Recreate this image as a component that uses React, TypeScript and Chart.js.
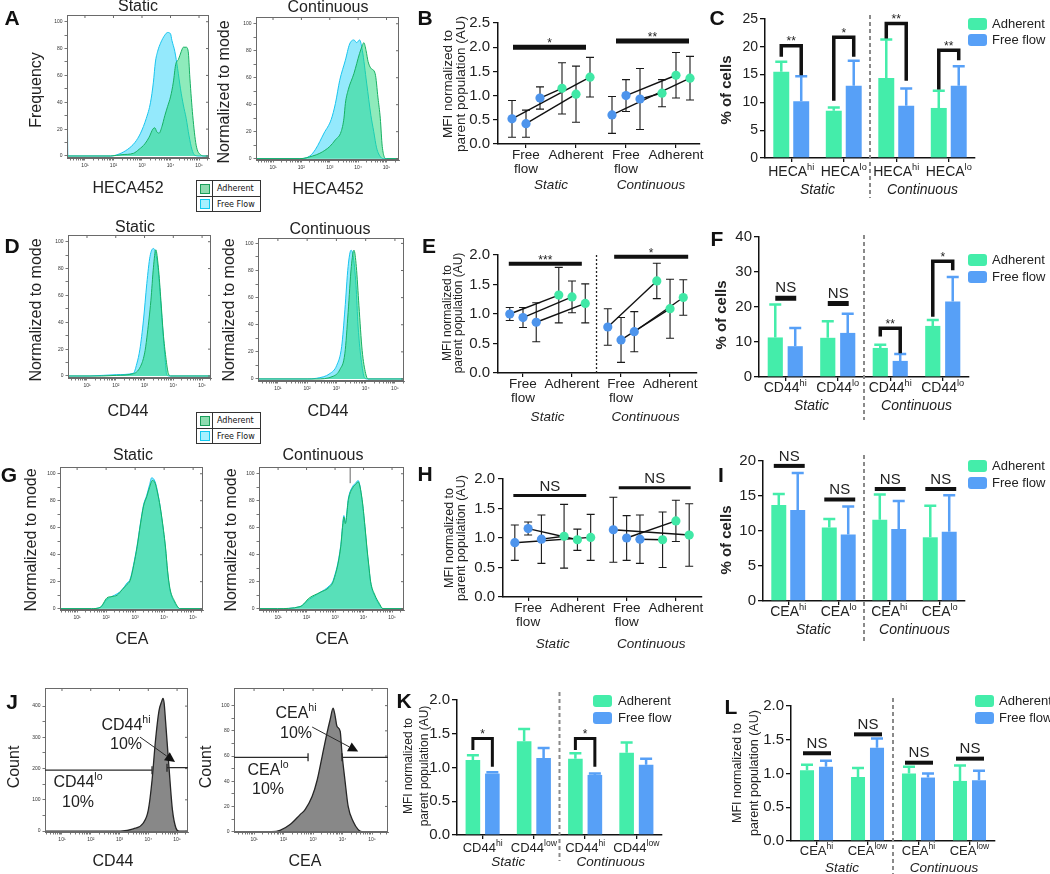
import React, { useEffect, useRef } from 'react';
import { Chart, registerables } from 'chart.js';

Chart.register(...registerables);

const FONT = "'Liberation Sans', Arial, Helvetica, sans-serif";
Chart.defaults.font.family = FONT;
Chart.defaults.color = '#222';

const BAR_GREEN = '#44EDAA';
const BAR_BLUE = '#57A0F7';
const DOT_GREEN = '#40E8A6';
const DOT_BLUE = '#4D94EC';

// ===================== DATA =====================
// Histograms: x = log10 fluorescence (decades), y = % of mode (or count)
const decadeTicks = [1, 2, 3, 4, 5];
const decadeLabels = ['10¹', '10²', '10³', '10⁴', '10⁵'];
const modeTicks = [0, 20, 40, 60, 80, 100];
const cd44CountTicks = [0, 100, 200, 300, 400];

const aStaticAdherent = [[0.37, 0], [1.9, 0], [2.3, 1], [2.7, 2], [2.9, 5], [3.1, 9], [3.25, 14], [3.38, 20], [3.45, 21], [3.52, 18], [3.6, 17], [3.7, 22], [3.8, 30], [3.9, 37], [4.0, 44], [4.1, 55], [4.18, 68], [4.28, 72], [4.38, 78], [4.45, 81], [4.55, 81], [4.62, 78], [4.68, 58], [4.78, 30], [4.9, 8], [5.05, 1], [5.2, 0], [5.35, 0]];
const aStaticFreeFlow = [[0.37, 88], [0.4, 0], [1.9, 0], [2.2, 1.5], [2.5, 5], [2.75, 10], [2.95, 17], [3.15, 28], [3.3, 40], [3.4, 55], [3.47, 70], [3.55, 78], [3.65, 84], [3.8, 90], [3.9, 92], [4.0, 91], [4.05, 86], [4.15, 78], [4.25, 65], [4.35, 50], [4.45, 38], [4.55, 28], [4.65, 15], [4.75, 5], [4.85, 0.5], [5.0, 0], [5.35, 0]];
const aContAdherent = [[0.4, 0], [1.95, 0], [2.4, 2], [2.65, 4], [3.0, 9], [3.2, 14], [3.4, 20], [3.5, 30], [3.55, 41], [3.65, 51], [3.85, 63], [4.05, 78], [4.15, 84], [4.2, 86], [4.28, 80], [4.35, 72], [4.45, 67], [4.6, 63], [4.7, 45], [4.78, 30], [4.85, 9], [5.0, 0], [5.44, 0]];
const aContFreeFlow = [[0.4, 0], [1.95, 0], [2.3, 2], [2.5, 7], [2.8, 19], [3.05, 29], [3.2, 41], [3.35, 58], [3.55, 73], [3.7, 85], [3.85, 88], [3.95, 86], [4.05, 88], [4.15, 80], [4.3, 56], [4.45, 32], [4.55, 20], [4.65, 8], [4.8, 1], [4.9, 0], [5.44, 0]];
const dStaticAdherent = [[0.34, 0], [1.5, 0], [2.03, 0.5], [2.61, 1.7], [2.9, 9], [3.02, 19], [3.1, 32], [3.22, 56], [3.31, 81], [3.39, 94], [3.48, 81], [3.57, 56], [3.65, 32], [3.74, 14], [3.83, 1.7], [3.91, 0], [5.31, 0]];
const dStaticFreeFlow = [[0.34, 8], [0.36, 0], [1.1, 0], [2.03, 1], [2.61, 2], [2.73, 9], [2.84, 20], [2.96, 41], [3.08, 69], [3.19, 89], [3.31, 95], [3.4, 90], [3.48, 78], [3.6, 44], [3.71, 14], [3.77, 1], [3.85, 0], [5.31, 0]];
const dContAdherent = [[0.32, 0], [2.3, 0], [2.89, 2], [3.12, 7], [3.29, 19], [3.4, 49], [3.51, 83], [3.6, 95], [3.68, 83], [3.77, 54], [3.88, 21], [4.0, 4], [4.08, 0], [5.31, 0]];
const dContFreeFlow = [[0.32, 3], [0.34, 0], [2.0, 0], [2.32, 0.5], [2.78, 4], [3.01, 10], [3.18, 24], [3.29, 51], [3.4, 83], [3.5, 95], [3.57, 91], [3.67, 69], [3.74, 39], [3.86, 12], [3.97, 0.5], [4.05, 0], [5.31, 0]];
const gStaticAdherent = [[0.41, 28], [0.43, 0], [1.5, 0], [1.8, 1], [2.03, 8], [2.2, 9], [2.38, 10], [2.55, 14], [2.72, 18], [2.83, 21], [2.95, 32], [3.07, 46], [3.18, 62], [3.29, 76], [3.4, 83], [3.5, 90], [3.59, 95], [3.69, 93], [3.78, 85], [3.86, 76], [3.98, 58], [4.05, 45], [4.12, 28], [4.2, 15], [4.35, 6], [4.55, 0], [5.34, 0]];
const gStaticFreeFlow = [[0.41, 26], [0.43, 0], [1.5, 0], [1.8, 1], [2.03, 7], [2.2, 9], [2.38, 11], [2.55, 14], [2.72, 19], [2.83, 22], [2.95, 33], [3.07, 47], [3.18, 63], [3.29, 77], [3.4, 84], [3.5, 92], [3.57, 97], [3.69, 94], [3.78, 86], [3.86, 76], [3.98, 57], [4.05, 44], [4.12, 27], [4.2, 14], [4.35, 5], [4.55, 0], [5.34, 0]];
const gContAdherent = [[0.33, 18], [0.35, 0], [0.98, 0], [1.77, 1.5], [2.1, 8], [2.47, 12], [2.8, 16], [2.95, 21], [3.2, 46], [3.27, 62], [3.31, 68], [3.36, 63], [3.47, 81], [3.63, 90], [3.72, 92], [3.81, 94], [3.95, 81], [4.05, 61], [4.12, 45], [4.18, 33], [4.25, 20], [4.4, 10], [4.55, 4], [4.68, 0], [5.42, 0]];
const gContFreeFlow = [[0.33, 16], [0.35, 0], [0.98, 0], [1.77, 1.5], [2.1, 7], [2.47, 12], [2.8, 17], [2.95, 22], [3.2, 47], [3.27, 63], [3.31, 69], [3.36, 64], [3.47, 82], [3.63, 91], [3.72, 93], [3.81, 95], [3.95, 80], [4.05, 60], [4.12, 44], [4.18, 32], [4.25, 19], [4.4, 9], [4.55, 3], [4.68, 0], [5.42, 0]];
const gContMarker = [3.53, 93, 105];
const jCd44Count = [[0.41, 0], [3.03, 0], [3.48, 7], [3.82, 25], [4.0, 67], [4.13, 162], [4.25, 290], [4.37, 384], [4.47, 416], [4.51, 425], [4.55, 410], [4.6, 352], [4.72, 203], [4.84, 67], [4.96, 10], [5.07, 0], [5.38, 0]];
const jCeaCount = [[0.32, 0], [1.6, 0], [1.88, 1], [2.22, 5.6], [2.56, 13.5], [2.73, 17.5], [2.97, 28], [3.14, 41], [3.31, 60], [3.47, 78], [3.58, 89], [3.68, 98], [3.75, 91.5], [3.81, 83.6], [3.92, 79.6], [3.98, 62], [4.08, 41], [4.19, 20], [4.36, 8], [4.53, 1.6], [4.65, 0], [5.54, 0]];
// gates: [x1, x2, level]; arrows: [x1, y1, x2, y2]
const cd44LoGate = [0.41, 4.13, 195];
const cd44HiGate = [4.65, 5.38, 203];
const cd44Arrow = [3.71, 301, 4.93, 221];
const ceaLoGate = [0.32, 2.83, 59];
const ceaHiGate = [3.98, 5.54, 59];
const ceaArrow = [2.97, 83, 4.53, 63.5];

// MFI dot plots (B, E, H): three paired experiments per condition
const mfiCats = [1, 2, 3, 4];
const mfiCatLabels: any[] = [['Free', 'flow'], 'Adherent', ['Free', 'flow'], 'Adherent'];
const groupLabels = ['Static', 'Continuous'];

const bStaticFree = [0.52, 0.42, 0.95];
const bStaticFreeSd = [0.38, 0.28, 0.23];
const bStaticAdh = [1.15, 1.03, 1.38];
const bStaticAdhSd = [0.53, 0.58, 0.41];
const bContFree = [0.6, 1.0, 0.93];
const bContFreeSd = [0.38, 0.33, 0.63];
const bContAdh = [1.05, 1.42, 1.36];
const bContAdhSd = [0.28, 0.47, 0.45];
const bPairs = [2, 1, 0];
const bSig = [{ x1: 0.74, x2: 2.2, y: 2.0, label: '*' }, { x1: 2.8, x2: 4.26, y: 2.13, label: '**' }];

const eStaticFree = [1.0, 0.94, 0.86];
const eStaticFreeSd = [0.11, 0.17, 0.33];
const eStaticAdh = [1.32, 1.29, 1.18];
const eStaticAdhSd = [0.47, 0.27, 0.33];
const eContFree = [0.78, 0.56, 0.7];
const eContFreeSd = [0.31, 0.38, 0.34];
const eContAdh = [1.56, 1.09, 1.28];
const eContAdhSd = [0.3, 0.5, 0.3];
const ePairs = [0, 1, 2];
const eSig = [{ x1: 0.71, x2: 2.2, y: 1.85, label: '***' }, { x1: 2.86, x2: 4.37, y: 1.97, label: '*' }];

const hStaticFree = [0.92, 1.16, 0.98];
const hStaticFreeSd = [0.3, 0.11, 0.41];
const hStaticAdh = [1.03, 0.97, 1.01];
const hStaticAdhSd = [0.54, 0.18, 0.39];
const hContFree = [1.14, 1.0, 0.98];
const hContFreeSd = [0.55, 0.38, 0.41];
const hContAdh = [0.97, 1.29, 1.05];
const hContAdhSd = [0.47, 0.35, 0.53];
const hPairs = [2, 1, 0];
const hSig = [{ x1: 0.7, x2: 2.18, y: 1.72, label: 'NS' }, { x1: 2.84, x2: 4.3, y: 1.85, label: 'NS' }];

// Bar charts (C, F, I, K, L)
const legendLabels = ['Adherent', 'Free flow'];

const cLabels = [['HECA', 'hi'], ['HECA', 'lo'], ['HECA', 'hi'], ['HECA', 'lo']];
const cAdh = [15.5, 8.5, 14.4, 9.0];
const cAdhSd = [1.8, 0.6, 6.9, 3.1];
const cFree = [10.2, 13.0, 9.4, 13.0];
const cFreeSd = [4.5, 4.5, 3.1, 3.5];
const cBrackets = [
  { g: 0, y: 20.2, left: 18.2, right: 14.9, label: '**' },
  { g: 1, y: 21.7, left: 10.3, right: 18.2, label: '*' },
  { g: 2, y: 24.2, left: 21.5, right: 13.9, label: '**' },
  { g: 3, y: 19.4, left: 12.3, right: 17.6, label: '**' },
];

const fLabels = [['CD44', 'hi'], ['CD44', 'lo'], ['CD44', 'hi'], ['CD44', 'lo']];
const fAdh = [11.3, 11.2, 8.3, 14.6];
const fAdhSd = [9.4, 4.7, 0.9, 1.7];
const fFree = [8.8, 12.6, 4.6, 21.6];
const fFreeSd = [5.2, 5.5, 2.0, 7.0];
const fNs = [{ g: 0, y: 22.5 }, { g: 1, y: 21.0 }];
const fBrackets = [
  { g: 2, y: 13.9, left: 11.6, right: 6.8, label: '**' },
  { g: 3, y: 33.1, left: 17.2, right: 30.5, label: '*' },
];

const iLabels = [['CEA', 'hi'], ['CEA', 'lo'], ['CEA', 'hi'], ['CEA', 'lo']];
const iAdh = [13.7, 10.5, 11.6, 9.1];
const iAdhSd = [1.6, 1.2, 3.6, 4.5];
const iFree = [13.0, 9.5, 10.3, 9.9];
const iFreeSd = [5.3, 4.0, 4.0, 5.2];
const iNs = [{ g: 0, y: 19.3 }, { g: 1, y: 14.5 }, { g: 2, y: 16.0 }, { g: 3, y: 16.0 }];

const kLabels = [['CD44', 'hi'], ['CD44', 'low'], ['CD44', 'hi'], ['CD44', 'low']];
const kAdh = [1.11, 1.39, 1.13, 1.22];
const kAdhSd = [0.07, 0.18, 0.08, 0.15];
const kFree = [0.91, 1.14, 0.89, 1.04];
const kFreeSd = [0.02, 0.15, 0.02, 0.09];
const kBrackets = [
  { g: 0, y: 1.43, left: 1.26, right: 1.01, label: '*' },
  { g: 2, y: 1.43, left: 1.26, right: 1.01, label: '*' },
];

const lLabels = [['CEA', 'hi'], ['CEA', 'low'], ['CEA', 'hi'], ['CEA', 'low']];
const lAdh = [1.05, 0.95, 1.0, 0.89];
const lAdhSd = [0.08, 0.13, 0.1, 0.23];
const lFree = [1.1, 1.38, 0.94, 0.9];
const lFreeSd = [0.09, 0.14, 0.06, 0.14];
const lNs = [{ g: 0, y: 1.3 }, { g: 1, y: 1.58 }, { g: 2, y: 1.16 }, { g: 3, y: 1.22 }];

// ===================== DRAW HELPERS =====================
type Seg = { t: string; sup?: boolean };
type TextItem = { x: number; y: number; text?: string; segs?: Seg[]; size: number; bold?: boolean; italic?: boolean; align?: string; rot?: boolean; color?: string };

function fontStr(size: number, bold?: boolean, italic?: boolean) {
  return `${italic ? 'italic ' : ''}${bold ? 'bold ' : ''}${size}px ${FONT}`;
}

// draws at canvas-local coordinates
function drawTextLocal(ctx: CanvasRenderingContext2D, it: TextItem) {
  const segs = it.segs || [{ t: it.text || '' }];
  ctx.save();
  ctx.translate(it.x, it.y);
  if (it.rot) ctx.rotate(-Math.PI / 2);
  ctx.fillStyle = it.color || '#222';
  ctx.textBaseline = 'middle';
  ctx.textAlign = 'left';
  const supSize = it.size * 0.66;
  let total = 0;
  const widths = segs.map((s) => {
    ctx.font = fontStr(s.sup ? supSize : it.size, it.bold, it.italic);
    const w = ctx.measureText(s.t).width;
    total += w;
    return w;
  });
  let x = it.align === 'left' ? 0 : it.align === 'right' ? -total : -total / 2;
  segs.forEach((s, i) => {
    ctx.font = fontStr(s.sup ? supSize : it.size, it.bold, it.italic);
    ctx.fillText(s.t, x, s.sup ? -it.size * 0.36 : 0);
    x += widths[i];
  });
  ctx.restore();
}

type Rect = { L: number; T: number; W: number; H: number };
type Plot = { l: number; t: number; r: number; b: number };

function drawTextPage(ctx: CanvasRenderingContext2D, rect: Rect, it: TextItem) {
  drawTextLocal(ctx, { ...it, x: it.x - rect.L, y: it.y - rect.T });
}

function overlay(rect: Rect, before: any, after: any, texts: TextItem[]) {
  return {
    id: 'overlay',
    beforeDatasetsDraw(chart: any) {
      if (!before) return;
      const ctx = chart.ctx;
      ctx.save();
      before(chart, ctx);
      ctx.restore();
    },
    afterDraw(chart: any) {
      const ctx = chart.ctx;
      ctx.save();
      if (after) after(chart, ctx);
      texts.forEach((t) => drawTextPage(ctx, rect, t));
      ctx.restore();
    },
  };
}

function layoutPad(rect: Rect, plot: Plot) {
  return { left: 0, top: plot.t - rect.T, right: rect.L + rect.W - plot.r, bottom: 0 };
}
function fitY(rect: Rect, plot: Plot) {
  return (s: any) => {
    s.width = plot.l - rect.L;
    s.paddingTop = 0; s.paddingBottom = 0; s.paddingLeft = 0; s.paddingRight = 0;
  };
}
function fitX(rect: Rect, plot: Plot) {
  return (s: any) => {
    s.height = rect.T + rect.H - plot.b;
    s.paddingTop = 0; s.paddingBottom = 0; s.paddingLeft = 0; s.paddingRight = 0;
  };
}
function baseOptions(rect: Rect, plot: Plot) {
  return {
    responsive: false,
    animation: false,
    events: [],
    layout: { padding: layoutPad(rect, plot) },
    plugins: { legend: { display: false }, tooltip: { enabled: false }, title: { display: false } },
  };
}

function roundRect(ctx: CanvasRenderingContext2D, x: number, y: number, w: number, h: number, r: number) {
  ctx.beginPath();
  ctx.moveTo(x + r, y);
  ctx.lineTo(x + w - r, y);
  ctx.quadraticCurveTo(x + w, y, x + w, y + r);
  ctx.lineTo(x + w, y + h - r);
  ctx.quadraticCurveTo(x + w, y + h, x + w - r, y + h);
  ctx.lineTo(x + r, y + h);
  ctx.quadraticCurveTo(x, y + h, x, y + h - r);
  ctx.lineTo(x, y + r);
  ctx.quadraticCurveTo(x, y, x + r, y);
  ctx.closePath();
}

function arrow(ctx: CanvasRenderingContext2D, x1: number, y1: number, x2: number, y2: number) {
  const ang = Math.atan2(y2 - y1, x2 - x1);
  const len = 10, hw = 5;
  const bx = x2 - len * Math.cos(ang), by = y2 - len * Math.sin(ang);
  ctx.beginPath();
  ctx.moveTo(x1, y1);
  ctx.lineTo(bx, by);
  ctx.stroke();
  ctx.beginPath();
  ctx.moveTo(x2, y2);
  ctx.lineTo(bx + hw * Math.sin(ang), by - hw * Math.cos(ang));
  ctx.lineTo(bx - hw * Math.sin(ang), by + hw * Math.cos(ang));
  ctx.closePath();
  ctx.fill();
}

// ===================== HISTOGRAMS =====================
const HIST_STYLE: any = {
  adh: { border: '#17B063', fill: 'rgba(30,215,120,0.5)', w: 1 },
  ff: { border: '#18C4EE', fill: 'rgba(60,215,250,0.55)', w: 1 },
  gray: { border: '#262626', fill: 'rgba(110,110,110,0.82)', w: 1.3 },
};

function histChart(o: any) {
  const { rect, plot } = o;
  const xTickList: number[] = [];
  for (let n = 0; n <= 5; n++) {
    for (let k = 1; k <= 9; k++) {
      const v = n + Math.log10(k);
      if (v >= o.xr[0] && v <= o.xr[1]) xTickList.push(v);
    }
  }
  xTickList.sort((a, b) => a - b);
  const yTickList: number[] = [];
  const yTop = o.yMajor[o.yMajor.length - 1];
  for (let v = 0; v <= yTop + 1e-9; v += o.yMinor) yTickList.push(v);
  const majorX = (v: number) => decadeTicks.findIndex((d) => Math.abs(d - v) < 1e-6);
  const datasets = o.series.map((s: any, i: number) => ({
    data: s.data.map((p: number[]) => ({ x: p[0], y: p[1] })),
    borderColor: HIST_STYLE[s.kind].border,
    backgroundColor: HIST_STYLE[s.kind].fill,
    borderWidth: HIST_STYLE[s.kind].w,
    fill: 'origin',
    pointRadius: 0,
    cubicInterpolationMode: 'monotone',
    order: i,
  }));
  const after = (chart: any, ctx: CanvasRenderingContext2D) => {
    const a = chart.chartArea;
    const X = chart.scales.x, Y = chart.scales.y;
    ctx.strokeStyle = '#6a6a6a';
    ctx.lineWidth = 1;
    ctx.strokeRect(a.left + 0.5, a.top + 0.5, a.right - a.left - 1, a.bottom - a.top - 1);
    ctx.beginPath();
    decadeTicks.forEach((d) => {
      if (d < o.xr[0] || d > o.xr[1]) return;
      const x = X.getPixelForValue(d);
      ctx.moveTo(x, a.top); ctx.lineTo(x, a.top + 3);
    });
    o.yMajor.forEach((v: number) => {
      const y = Y.getPixelForValue(v);
      ctx.moveTo(a.right, y); ctx.lineTo(a.right - 3, y);
    });
    ctx.stroke();
    if (o.extra) o.extra(chart, ctx);
  };
  return {
    type: 'line',
    data: { datasets },
    options: {
      ...baseOptions(rect, plot),
      scales: {
        x: {
          type: 'linear', min: o.xr[0], max: o.xr[1],
          afterBuildTicks: (s: any) => { s.ticks = xTickList.map((value) => ({ value })); },
          afterFit: fitX(rect, plot),
          ticks: {
            autoSkip: false, maxRotation: 0, padding: 2, font: { size: 5 }, color: '#333',
            callback: (v: number) => { const i = majorX(v); return i >= 0 ? decadeLabels[i] : ''; },
          },
          grid: { drawOnChartArea: false, tickLength: 2.5, color: '#555', lineWidth: 0.8 },
          border: { color: '#6a6a6a', width: 1 },
        },
        y: {
          type: 'linear', min: o.yr[0], max: o.yr[1],
          afterBuildTicks: (s: any) => { s.ticks = yTickList.map((value) => ({ value })); },
          afterFit: fitY(rect, plot),
          ticks: {
            autoSkip: false, padding: 2, font: { size: 5 }, color: '#333',
            callback: (v: number) => (o.yMajor.some((m: number) => Math.abs(m - v) < 1e-6) ? String(Math.round(v)) : ''),
          },
          grid: { drawOnChartArea: false, tickLength: 2.5, color: '#555', lineWidth: 0.8 },
          border: { color: '#6a6a6a', width: 1 },
        },
      },
    },
    plugins: [overlay(rect, null, after, o.texts)],
  };
}

function gateDrawer(lo: number[], hi: number[], arr: number[]) {
  return (chart: any, ctx: CanvasRenderingContext2D) => {
    const X = chart.scales.x, Y = chart.scales.y;
    ctx.strokeStyle = '#2a2a2a';
    ctx.fillStyle = '#111';
    ctx.lineWidth = 1.3;
    const y1 = Y.getPixelForValue(lo[2]);
    const a1 = X.getPixelForValue(lo[0]), b1 = X.getPixelForValue(lo[1]);
    ctx.beginPath();
    ctx.moveTo(a1, y1); ctx.lineTo(b1, y1);
    ctx.moveTo(b1, y1 - 4); ctx.lineTo(b1, y1 + 4);
    const y2 = Y.getPixelForValue(hi[2]);
    const a2 = X.getPixelForValue(hi[0]), b2 = X.getPixelForValue(hi[1]);
    ctx.moveTo(a2, y2); ctx.lineTo(b2, y2);
    ctx.moveTo(a2, y2 - 4); ctx.lineTo(a2, y2 + 4);
    ctx.stroke();
    ctx.lineWidth = 1;
    arrow(ctx, X.getPixelForValue(arr[0]), Y.getPixelForValue(arr[1]), X.getPixelForValue(arr[2]), Y.getPixelForValue(arr[3]));
  };
}

const histSpecs: any[] = [
  {
    key: 'A1', rect: { L: 0, T: 0, W: 215, H: 200 }, plot: { l: 67, t: 15, r: 209, b: 158 },
    xr: [0.37, 5.35], yr: [-1.5, 105], yMajor: modeTicks, yMinor: 10,
    series: [{ data: aStaticAdherent, kind: 'adh' }, { data: aStaticFreeFlow, kind: 'ff' }],
    texts: [
      { x: 138, y: 7, text: 'Static', size: 16 },
      { x: 37, y: 90, text: 'Frequency', size: 16, rot: true },
      { x: 128, y: 189, text: 'HECA452', size: 16 },
    ],
  },
  {
    key: 'A2', rect: { L: 212, T: 0, W: 200, H: 200 }, plot: { l: 256, t: 17, r: 399, b: 160 },
    xr: [0.4, 5.44], yr: [-1, 105], yMajor: modeTicks, yMinor: 10,
    series: [{ data: aContAdherent, kind: 'adh' }, { data: aContFreeFlow, kind: 'ff' }],
    texts: [
      { x: 328, y: 8, text: 'Continuous', size: 16 },
      { x: 225, y: 92, text: 'Normalized to mode', size: 16, rot: true },
      { x: 328, y: 190, text: 'HECA452', size: 16 },
    ],
  },
  {
    key: 'D1', rect: { L: 0, T: 215, W: 215, H: 205 }, plot: { l: 68, t: 235, r: 211, b: 378 },
    xr: [0.34, 5.31], yr: [-1.5, 105], yMajor: modeTicks, yMinor: 10,
    series: [{ data: dStaticAdherent, kind: 'adh' }, { data: dStaticFreeFlow, kind: 'ff' }],
    texts: [
      { x: 135, y: 228, text: 'Static', size: 16 },
      { x: 37, y: 310, text: 'Normalized to mode', size: 16, rot: true },
      { x: 128, y: 412, text: 'CD44', size: 16 },
    ],
  },
  {
    key: 'D2', rect: { L: 212, T: 215, W: 200, H: 205 }, plot: { l: 258, t: 238, r: 404, b: 381 },
    xr: [0.32, 5.31], yr: [-1.5, 104], yMajor: modeTicks, yMinor: 10,
    series: [{ data: dContAdherent, kind: 'adh' }, { data: dContFreeFlow, kind: 'ff' }],
    texts: [
      { x: 330, y: 230, text: 'Continuous', size: 16 },
      { x: 230, y: 310, text: 'Normalized to mode', size: 16, rot: true },
      { x: 328, y: 412, text: 'CD44', size: 16 },
    ],
  },
  {
    key: 'G1', rect: { L: 0, T: 444, W: 212, H: 206 }, plot: { l: 60, t: 467, r: 203, b: 610 },
    xr: [0.41, 5.34], yr: [-1, 105], yMajor: modeTicks, yMinor: 10,
    series: [{ data: gStaticAdherent, kind: 'adh' }, { data: gStaticFreeFlow, kind: 'ff' }],
    texts: [
      { x: 133, y: 456, text: 'Static', size: 16 },
      { x: 32, y: 540, text: 'Normalized to mode', size: 16, rot: true },
      { x: 132, y: 640, text: 'CEA', size: 16 },
    ],
  },
  {
    key: 'G2', rect: { L: 212, T: 444, W: 200, H: 206 }, plot: { l: 259, t: 467, r: 404, b: 610 },
    xr: [0.33, 5.42], yr: [-1, 105], yMajor: modeTicks, yMinor: 10,
    series: [{ data: gContAdherent, kind: 'adh' }, { data: gContFreeFlow, kind: 'ff' }],
    texts: [
      { x: 323, y: 456, text: 'Continuous', size: 16 },
      { x: 232, y: 540, text: 'Normalized to mode', size: 16, rot: true },
      { x: 332, y: 640, text: 'CEA', size: 16 },
    ],
    extra: (chart: any, ctx: CanvasRenderingContext2D) => {
      const X = chart.scales.x, Y = chart.scales.y;
      ctx.strokeStyle = '#666';
      ctx.lineWidth = 1;
      ctx.beginPath();
      const x = X.getPixelForValue(gContMarker[0]);
      ctx.moveTo(x, Y.getPixelForValue(gContMarker[1]));
      ctx.lineTo(x, Y.getPixelForValue(gContMarker[2]));
      ctx.stroke();
    },
  },
  {
    key: 'J1', rect: { L: 0, T: 680, W: 195, H: 194 }, plot: { l: 45, t: 688, r: 188, b: 832 },
    xr: [0.41, 5.38], yr: [-3, 458], yMajor: cd44CountTicks, yMinor: 50,
    series: [{ data: jCd44Count, kind: 'gray' }],
    texts: [
      { x: 15, y: 767, text: 'Count', size: 16, rot: true },
      { x: 113, y: 862, text: 'CD44', size: 16 },
      { x: 126, y: 726, segs: [{ t: 'CD44' }, { t: 'hi', sup: true }], size: 16 },
      { x: 126, y: 745, text: '10%', size: 16 },
      { x: 78, y: 783, segs: [{ t: 'CD44' }, { t: 'lo', sup: true }], size: 16 },
      { x: 78, y: 803, text: '10%', size: 16 },
    ],
    extra: gateDrawer(cd44LoGate, cd44HiGate, cd44Arrow),
  },
  {
    key: 'J2', rect: { L: 195, T: 680, W: 200, H: 194 }, plot: { l: 234, t: 688, r: 388, b: 832 },
    xr: [0.32, 5.54], yr: [-0.3, 114], yMajor: modeTicks, yMinor: 10,
    series: [{ data: jCeaCount, kind: 'gray' }],
    texts: [
      { x: 207, y: 767, text: 'Count', size: 16, rot: true },
      { x: 305, y: 862, text: 'CEA', size: 16 },
      { x: 296, y: 714, segs: [{ t: 'CEA' }, { t: 'hi', sup: true }], size: 16 },
      { x: 296, y: 734, text: '10%', size: 16 },
      { x: 268, y: 771, segs: [{ t: 'CEA' }, { t: 'lo', sup: true }], size: 16 },
      { x: 268, y: 790, text: '10%', size: 16 },
    ],
    extra: gateDrawer(ceaLoGate, ceaHiGate, ceaArrow),
  },
];

// ===================== DOT PLOTS =====================
function dotChart(o: any) {
  const { rect, plot } = o;
  const ffPts: any[] = [], adhPts: any[] = [], links: any[] = [];
  o.groups.forEach((g: any, gi: number) => {
    const ffX = mfiCats[gi * 2], adhX = mfiCats[gi * 2 + 1];
    g.ff.forEach((v: number, i: number) => ffPts.push({ x: ffX + (i - 1) * o.off, y: v, e: g.ffSd[i] }));
    g.adh.forEach((v: number, i: number) => adhPts.push({ x: adhX + (i - 1) * o.off, y: v, e: g.adhSd[i] }));
    g.pairs.forEach((j: number, i: number) => links.push([
      { x: ffX + (i - 1) * o.off, y: g.ff[i] },
      { x: adhX + (j - 1) * o.off, y: g.adh[j] },
    ]));
  });
  const datasets = [
    { data: ffPts, backgroundColor: DOT_BLUE, borderColor: DOT_BLUE, pointRadius: 4.6, pointBorderWidth: 0, showLine: false, order: 0 },
    { data: adhPts, backgroundColor: DOT_GREEN, borderColor: DOT_GREEN, pointRadius: 4.6, pointBorderWidth: 0, showLine: false, order: 0 },
    ...links.map((l) => ({ data: l, borderColor: '#111', borderWidth: 1.4, pointRadius: 0, showLine: true, order: 1 })),
  ];
  const before = (chart: any, ctx: CanvasRenderingContext2D) => {
    const X = chart.scales.x, Y = chart.scales.y;
    if (o.sep) {
      const x = X.getPixelForValue(2.5);
      ctx.strokeStyle = '#222';
      ctx.lineWidth = 1.3;
      ctx.setLineDash([2, 2]);
      ctx.beginPath();
      ctx.moveTo(x, Y.getPixelForValue(o.yMax));
      ctx.lineTo(x, Y.getPixelForValue(0));
      ctx.stroke();
      ctx.setLineDash([]);
    }
    ctx.strokeStyle = '#1a1a1a';
    ctx.lineWidth = 1.1;
    [...ffPts, ...adhPts].forEach((p) => {
      const x = X.getPixelForValue(p.x);
      const y1 = Y.getPixelForValue(p.y + p.e), y2 = Y.getPixelForValue(Math.max(0, p.y - p.e));
      ctx.beginPath();
      ctx.moveTo(x, y1); ctx.lineTo(x, y2);
      ctx.moveTo(x - 4, y1); ctx.lineTo(x + 4, y1);
      ctx.moveTo(x - 4, y2); ctx.lineTo(x + 4, y2);
      ctx.stroke();
    });
  };
  const after = (chart: any, ctx: CanvasRenderingContext2D) => {
    const X = chart.scales.x, Y = chart.scales.y;
    ctx.strokeStyle = '#111';
    ctx.lineWidth = o.sigWidth;
    o.sig.forEach((s: any) => {
      const x1 = X.getPixelForValue(s.x1), x2 = X.getPixelForValue(s.x2), y = Y.getPixelForValue(s.y);
      ctx.beginPath();
      ctx.moveTo(x1, y); ctx.lineTo(x2, y);
      ctx.stroke();
      const ns = s.label === 'NS';
      drawTextLocal(ctx, { x: (x1 + x2) / 2, y: y - o.sigWidth / 2 - (ns ? 7.5 : 1), text: s.label, size: ns ? 15 : 12 });
    });
    groupLabels.forEach((t, gi) => {
      drawTextLocal(ctx, { x: X.getPixelForValue(1.5 + gi * 2), y: o.groupY - rect.T, text: t, size: 13.5, italic: true });
    });
  };
  return {
    type: 'scatter',
    data: { datasets },
    options: {
      ...baseOptions(rect, plot),
      scales: {
        x: {
          type: 'linear', min: o.xr[0], max: o.xr[1],
          afterBuildTicks: (s: any) => { s.ticks = mfiCats.map((value) => ({ value })); },
          afterFit: fitX(rect, plot),
          ticks: {
            autoSkip: false, maxRotation: 0, padding: 1, color: '#222',
            font: { size: 13.5, lineHeight: 1.0 },
            callback: (v: number) => mfiCatLabels[mfiCats.indexOf(v)],
          },
          grid: { drawOnChartArea: false, tickLength: 4, color: '#111', lineWidth: 1.2 },
          border: { color: '#111', width: 1.5, dash: [2, 2] },
        },
        y: {
          type: 'linear', min: 0, max: o.yMax,
          afterFit: fitY(rect, plot),
          ticks: { stepSize: 0.5, padding: 3, color: '#222', font: { size: 15 }, callback: (v: number) => v.toFixed(1) },
          grid: { drawOnChartArea: false, tickLength: 5, color: '#111', lineWidth: 1.2 },
          border: { color: '#111', width: 1.5 },
        },
      },
    },
    plugins: [overlay(rect, before, after, o.texts)],
  };
}

const dotSpecs: any[] = [
  {
    key: 'B', rect: { L: 436, T: 0, W: 274, H: 200 }, plot: { l: 498, t: 23, r: 700, b: 144 },
    xr: [0.44, 4.48], yMax: 2.5, off: 0.28, sigWidth: 5, groupY: 185, sep: false, sig: bSig,
    groups: [
      { ff: bStaticFree, ffSd: bStaticFreeSd, adh: bStaticAdh, adhSd: bStaticAdhSd, pairs: bPairs },
      { ff: bContFree, ffSd: bContFreeSd, adh: bContAdh, adhSd: bContAdhSd, pairs: bPairs },
    ],
    texts: [
      { x: 448, y: 84, text: 'MFI normalized to', size: 13.5, rot: true },
      { x: 461, y: 84, text: 'parent population (AU)', size: 13.5, rot: true },
    ],
  },
  {
    key: 'E', rect: { L: 436, T: 200, W: 274, H: 230 }, plot: { l: 498, t: 255, r: 697, b: 373 },
    xr: [0.49, 4.55], yMax: 2.0, off: 0.27, sigWidth: 4, groupY: 417, sep: true, sig: eSig,
    groups: [
      { ff: eStaticFree, ffSd: eStaticFreeSd, adh: eStaticAdh, adhSd: eStaticAdhSd, pairs: ePairs },
      { ff: eContFree, ffSd: eContFreeSd, adh: eContAdh, adhSd: eContAdhSd, pairs: ePairs },
    ],
    texts: [
      { x: 448, y: 313, text: 'MFI normalized to', size: 12, rot: true },
      { x: 459, y: 313, text: 'parent population (AU)', size: 12, rot: true },
    ],
  },
  {
    key: 'H', rect: { L: 436, T: 440, W: 274, H: 215 }, plot: { l: 503, t: 479, r: 702, b: 597 },
    xr: [0.49, 4.53], yMax: 2.0, off: 0.27, sigWidth: 3, groupY: 644, sep: false, sig: hSig,
    groups: [
      { ff: hStaticFree, ffSd: hStaticFreeSd, adh: hStaticAdh, adhSd: hStaticAdhSd, pairs: hPairs },
      { ff: hContFree, ffSd: hContFreeSd, adh: hContAdh, adhSd: hContAdhSd, pairs: hPairs },
    ],
    texts: [
      { x: 450, y: 538, text: 'MFI normalized to', size: 12.5, rot: true },
      { x: 462, y: 538, text: 'parent population (AU)', size: 12.5, rot: true },
    ],
  },
];

// ===================== BAR CHARTS =====================
function barChart(o: any) {
  const { rect, plot } = o;
  const sds = [o.adhSd, o.ffSd];
  const colors = [BAR_GREEN, BAR_BLUE];
  const afterDatasets = {
    id: 'errbars',
    afterDatasetsDraw(chart: any) {
      const ctx = chart.ctx, Y = chart.scales.y;
      ctx.save();
      ctx.lineWidth = 2.5;
      [0, 1].forEach((di) => {
        const meta = chart.getDatasetMeta(di);
        ctx.strokeStyle = colors[di];
        meta.data.forEach((el: any, i: number) => {
          const v = chart.data.datasets[di].data[i];
          const top = Y.getPixelForValue(v + sds[di][i]);
          ctx.beginPath();
          ctx.moveTo(el.x, el.y); ctx.lineTo(el.x, top);
          ctx.moveTo(el.x - 6, top); ctx.lineTo(el.x + 6, top);
          ctx.stroke();
        });
      });
      ctx.restore();
    },
  };
  const after = (chart: any, ctx: CanvasRenderingContext2D) => {
    const X = chart.scales.x, Y = chart.scales.y;
    const m0 = chart.getDatasetMeta(0), m1 = chart.getDatasetMeta(1);
    // separator
    const sx = X.getPixelForValue(1.5);
    ctx.strokeStyle = '#8a8a8a';
    ctx.lineWidth = 2;
    ctx.setLineDash([4, 3]);
    ctx.beginPath();
    ctx.moveTo(sx, o.sepY[0] - rect.T); ctx.lineTo(sx, o.sepY[1] - rect.T);
    ctx.stroke();
    ctx.setLineDash([]);
    // brackets
    ctx.strokeStyle = '#111';
    ctx.lineWidth = o.bracketWidth;
    ctx.lineJoin = 'miter';
    (o.brackets || []).forEach((b: any) => {
      const x1 = m0.data[b.g].x, x2 = m1.data[b.g].x, y = Y.getPixelForValue(b.y);
      ctx.beginPath();
      ctx.moveTo(x1, Y.getPixelForValue(b.left));
      ctx.lineTo(x1, y); ctx.lineTo(x2, y);
      ctx.lineTo(x2, Y.getPixelForValue(b.right));
      ctx.stroke();
      drawTextLocal(ctx, { x: (x1 + x2) / 2, y: y - o.bracketWidth / 2 - 2, text: b.label, size: 12 });
    });
    ctx.lineWidth = o.nsWidth;
    (o.ns || []).forEach((n: any) => {
      const x1 = m0.data[n.g].x + o.nsExt[0], x2 = m1.data[n.g].x + o.nsExt[1], y = Y.getPixelForValue(n.y);
      ctx.beginPath();
      ctx.moveTo(x1, y); ctx.lineTo(x2, y);
      ctx.stroke();
      drawTextLocal(ctx, { x: (x1 + x2) / 2, y: y - o.nsWidth / 2 - 7.5, text: 'NS', size: 15 });
    });
    // category labels
    o.labels.forEach((lab: string[], i: number) => {
      drawTextLocal(ctx, { x: X.getPixelForValue(i), y: o.labelY - rect.T, segs: [{ t: lab[0] }, { t: lab[1], sup: true }], size: o.labelSize });
    });
    groupLabels.forEach((t, gi) => {
      drawTextLocal(ctx, { x: X.getPixelForValue(0.5 + gi * 2), y: o.groupY - rect.T, text: t, size: o.groupSize, italic: true });
    });
    // legend
    legendLabels.forEach((t, i) => {
      const yc = (i === 0 ? o.legend.y1 : o.legend.y2) - rect.T;
      ctx.fillStyle = colors[i];
      roundRect(ctx, o.legend.x - rect.L, yc - 6, 19, 12, 3);
      ctx.fill();
      drawTextLocal(ctx, { x: o.legend.tx - rect.L, y: yc, text: t, size: 13, align: 'left' });
    });
  };
  return {
    type: 'bar',
    data: {
      labels: o.labels.map((l: string[], i: number) => `${l[0]}${l[1]} ${groupLabels[i < 2 ? 0 : 1]}`),
      datasets: [
        { label: legendLabels[0], data: o.adh, backgroundColor: BAR_GREEN, categoryPercentage: o.catPct, barPercentage: o.barPct },
        { label: legendLabels[1], data: o.ff, backgroundColor: BAR_BLUE, categoryPercentage: o.catPct, barPercentage: o.barPct },
      ],
    },
    options: {
      ...baseOptions(rect, plot),
      scales: {
        x: {
          afterFit: fitX(rect, plot),
          ticks: { display: false },
          grid: { offset: false, drawOnChartArea: false, tickLength: 4, color: '#111', lineWidth: 1.3 },
          border: { color: '#111', width: 1.5 },
        },
        y: {
          min: 0, max: o.yMax,
          afterFit: fitY(rect, plot),
          ticks: { stepSize: o.yStep, padding: 2, color: '#222', font: { size: o.tickSize }, callback: (v: number) => (o.dec ? v.toFixed(1) : String(v)) },
          grid: { drawOnChartArea: false, tickLength: 5, color: '#111', lineWidth: 1.3 },
          border: { color: '#111', width: 1.5 },
        },
      },
    },
    plugins: [afterDatasets, overlay(rect, null, after, o.texts)],
  };
}

const barSpecs: any[] = [
  {
    key: 'C', rect: { L: 712, T: 0, W: 338, H: 200 }, plot: { l: 765, t: 19, r: 975, b: 158 },
    yMax: 25, yStep: 5, dec: false, tickSize: 14, catPct: 0.76, barPct: 0.8,
    adh: cAdh, adhSd: cAdhSd, ff: cFree, ffSd: cFreeSd, labels: cLabels, labelY: 172, labelSize: 14, groupY: 190, groupSize: 14,
    sepY: [15, 198], brackets: cBrackets, bracketWidth: 3.5, ns: [], nsWidth: 4, nsExt: [0, 0],
    legend: { x: 968, y1: 24, y2: 40, tx: 992 },
    texts: [{ x: 727, y: 90, text: '% of cells', size: 15, bold: true, rot: true }],
  },
  {
    key: 'F', rect: { L: 712, T: 200, W: 338, H: 225 }, plot: { l: 759, t: 237, r: 969, b: 377 },
    yMax: 40, yStep: 10, dec: false, tickSize: 15, catPct: 0.76, barPct: 0.76,
    adh: fAdh, adhSd: fAdhSd, ff: fFree, ffSd: fFreeSd, labels: fLabels, labelY: 388, labelSize: 14, groupY: 406, groupSize: 14,
    sepY: [235, 420], brackets: fBrackets, bracketWidth: 3.5, ns: fNs, nsWidth: 5, nsExt: [0, 1],
    legend: { x: 968, y1: 260, y2: 277, tx: 992 },
    texts: [{ x: 722, y: 315, text: '% of cells', size: 15, bold: true, rot: true }],
  },
  {
    key: 'I', rect: { L: 712, T: 430, W: 338, H: 225 }, plot: { l: 763, t: 461, r: 965, b: 601 },
    yMax: 20, yStep: 5, dec: false, tickSize: 15, catPct: 0.75, barPct: 0.79,
    adh: iAdh, adhSd: iAdhSd, ff: iFree, ffSd: iFreeSd, labels: iLabels, labelY: 612, labelSize: 14, groupY: 630, groupSize: 14,
    sepY: [455, 642], brackets: [], bracketWidth: 3.5, ns: iNs, nsWidth: 4, nsExt: [-5, 7],
    legend: { x: 968, y1: 466, y2: 483, tx: 992 },
    texts: [{ x: 727, y: 540, text: '% of cells', size: 15, bold: true, rot: true }],
  },
  {
    key: 'K', rect: { L: 395, T: 680, W: 315, H: 194 }, plot: { l: 457, t: 700, r: 662, b: 835 },
    yMax: 2, yStep: 0.5, dec: true, tickSize: 15, catPct: 0.76, barPct: 0.75,
    adh: kAdh, adhSd: kAdhSd, ff: kFree, ffSd: kFreeSd, labels: kLabels, labelY: 848, labelSize: 13, groupY: 862, groupSize: 13.5,
    sepY: [692, 861], brackets: kBrackets, bracketWidth: 3, ns: [], nsWidth: 4, nsExt: [0, 0],
    legend: { x: 593, y1: 701, y2: 718, tx: 618 },
    texts: [
      { x: 409, y: 766, text: 'MFI normalized to', size: 12, rot: true },
      { x: 425, y: 766, text: 'parent population (AU)', size: 12, rot: true },
    ],
  },
  {
    key: 'L', rect: { L: 712, T: 680, W: 338, H: 194 }, plot: { l: 791, t: 706, r: 995, b: 841 },
    yMax: 2, yStep: 0.5, dec: true, tickSize: 15, catPct: 0.745, barPct: 0.74,
    adh: lAdh, adhSd: lAdhSd, ff: lFree, ffSd: lFreeSd, labels: lLabels, labelY: 851, labelSize: 13, groupY: 868, groupSize: 13.5,
    sepY: [698, 874], brackets: [], bracketWidth: 3, ns: lNs, nsWidth: 4, nsExt: [-4, 5],
    legend: { x: 975, y1: 701, y2: 718, tx: 999 },
    texts: [
      { x: 738, y: 773, text: 'MFI normalized to', size: 12.5, rot: true },
      { x: 755, y: 773, text: 'parent population (AU)', size: 12.5, rot: true },
    ],
  },
];

// ===================== COMPONENTS =====================
function ChartCanvas({ spec, build }: { spec: any; build: (s: any) => any }) {
  const ref = useRef<HTMLCanvasElement | null>(null);
  useEffect(() => {
    if (!ref.current) return;
    const chart = new Chart(ref.current, build(spec));
    return () => chart.destroy();
  }, [spec, build]);
  const r = spec.rect;
  return (
    <canvas
      ref={ref}
      width={r.W}
      height={r.H}
      style={{ position: 'absolute', left: r.L, top: r.T, width: r.W, height: r.H }}
    />
  );
}

function FlowLegend({ x, y }: { x: number; y: number }) {
  const row = (fill: string, stroke: string, label: string, top: number) => (
    <div style={{ position: 'absolute', left: 0, top, width: '100%', height: 15, display: 'flex', alignItems: 'center' }}>
      <div style={{ width: 16, height: 15, borderRight: '1.5px solid #333', boxSizing: 'border-box', display: 'flex', alignItems: 'center', justifyContent: 'center' }}>
        <div style={{ width: 10, height: 10, background: fill, border: `1.5px solid ${stroke}`, boxSizing: 'border-box' }} />
      </div>
      <span style={{ marginLeft: 4, fontFamily: "'DejaVu Sans', sans-serif", fontSize: 8, color: '#111', whiteSpace: 'nowrap' }}>{label}</span>
    </div>
  );
  return (
    <div style={{ position: 'absolute', left: x, top: y, width: 65, height: 32, border: '1.5px solid #333', boxSizing: 'border-box', background: '#fff', overflow: 'hidden' }}>
      {row('#8FDCB0', '#1A9E5A', 'Adherent', 0)}
      <div style={{ position: 'absolute', left: 0, top: 14.5, width: '100%', height: 0, borderTop: '1.2px solid #333' }} />
      {row('#A6F0FF', '#11C9F0', 'Free Flow', 15.5)}
    </div>
  );
}

const panelLetters = [
  { t: 'A', x: 12, y: 17 }, { t: 'B', x: 425, y: 17 }, { t: 'C', x: 717, y: 17 },
  { t: 'D', x: 12, y: 245 }, { t: 'E', x: 429, y: 245 }, { t: 'F', x: 717, y: 238 },
  { t: 'G', x: 9, y: 474 }, { t: 'H', x: 425, y: 473 }, { t: 'I', x: 721, y: 474 },
  { t: 'J', x: 12, y: 701 }, { t: 'K', x: 404, y: 700 }, { t: 'L', x: 731, y: 706 },
];

export default function App() {
  useEffect(() => {
    document.body.style.margin = '0';
  }, []);
  return (
    <div style={{ position: 'absolute', left: 0, top: 0, width: 1050, height: 874, background: '#fff', overflow: 'hidden', fontFamily: FONT }}>
      <FlowLegend x={196} y={180} />
      <FlowLegend x={196} y={412} />
      {histSpecs.map((s) => <ChartCanvas key={s.key} spec={s} build={histChart} />)}
      {dotSpecs.map((s) => <ChartCanvas key={s.key} spec={s} build={dotChart} />)}
      {barSpecs.map((s) => <ChartCanvas key={s.key} spec={s} build={barChart} />)}
      {panelLetters.map((l) => (
        <div
          key={l.t}
          style={{ position: 'absolute', left: l.x, top: l.y, transform: 'translate(-50%, -50%)', fontFamily: FONT, fontWeight: 'bold', fontSize: 21, lineHeight: 1, color: '#111' }}
        >
          {l.t}
        </div>
      ))}
    </div>
  );
}
